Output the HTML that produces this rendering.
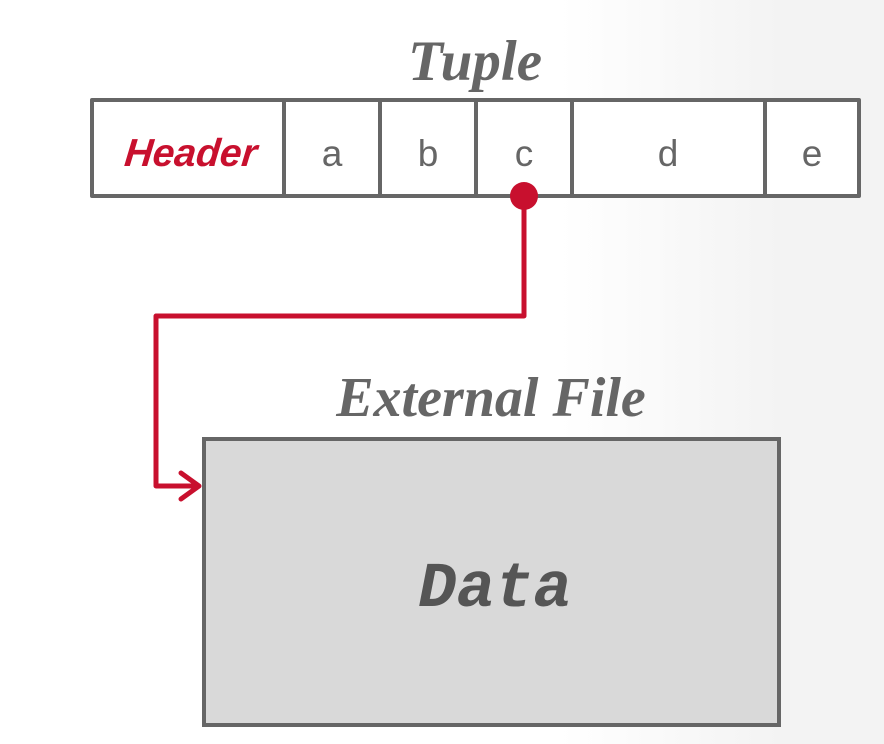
<!DOCTYPE html>
<html><head><style>
html,body{margin:0;padding:0;}
body{width:884px;height:744px;overflow:hidden;background:linear-gradient(to right,#fff 0px,#fff 560px,#f3f3f3 780px,#f3f3f3 884px);}
svg{display:block;}
</style></head><body>
<svg width="884" height="744" viewBox="0 0 884 744" xmlns="http://www.w3.org/2000/svg">
<text x="475" y="80" text-anchor="middle" font-family="Liberation Serif, serif" font-style="italic" font-weight="bold" font-size="57" fill="#666">Tuple</text>
<rect x="92" y="100" width="767" height="96" fill="#fff" stroke="#666" stroke-width="4" stroke-linejoin="round"/>
<g stroke="#666" stroke-width="4">
<line x1="284" y1="100" x2="284" y2="196"/>
<line x1="380" y1="100" x2="380" y2="196"/>
<line x1="476" y1="100" x2="476" y2="196"/>
<line x1="572" y1="100" x2="572" y2="196"/>
<line x1="765" y1="100" x2="765" y2="196"/>
</g>
<text x="190" y="166" text-anchor="middle" font-family="Liberation Sans, sans-serif" font-style="italic" font-weight="bold" font-size="39" fill="#c8102e" transform="skewX(-6) translate(17,0)">Header</text>
<g font-family="Liberation Sans, sans-serif" font-size="37" fill="#666" text-anchor="middle">
<text x="332" y="166">a</text>
<text x="428" y="166">b</text>
<text x="524" y="166">c</text>
<text x="668" y="166">d</text>
<text x="812" y="166">e</text>
</g>
<polyline points="524,196 524,316 156,316 156,486 198,486" fill="none" stroke="#c8102e" stroke-width="5" stroke-linejoin="round"/>
<polyline points="181,473 199,486 181,499" fill="none" stroke="#c8102e" stroke-width="5" stroke-linecap="round" stroke-linejoin="round"/>
<circle cx="524" cy="196" r="14" fill="#c8102e"/>
<text x="491" y="416" text-anchor="middle" font-family="Liberation Serif, serif" font-style="italic" font-weight="bold" font-size="56" fill="#666">External File</text>
<rect x="204" y="439" width="575" height="286" fill="#d9d9d9" stroke="#666" stroke-width="4"/>
<text x="495" y="606" text-anchor="middle" font-family="Liberation Mono, monospace" font-style="italic" font-weight="bold" font-size="64" fill="#555">Data</text>
</svg>
</body></html>
